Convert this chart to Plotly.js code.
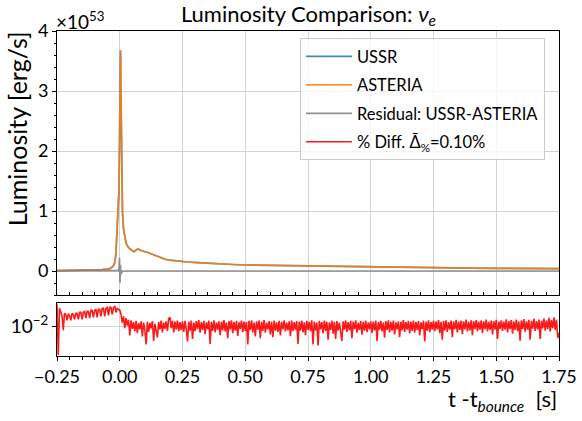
<!DOCTYPE html>
<html>
<head>
<meta charset="utf-8">
<script src="https://cdn.plot.ly/plotly-3.0.1.min.js"></script>
<style>html,body{margin:0;padding:0;background:#fff;}#chart{width:582px;height:421px;}</style>
</head>
<body>
<div id="chart"></div>
<script>
// Time (s) relative to bounce for luminosity curves
const tLum = [-0.25,-0.2,-0.15,-0.1,-0.07,-0.05,-0.04,-0.03,-0.025,-0.02,-0.017,-0.014,-0.011,-0.008,-0.005,-0.003,-0.001,0.001,0.003,0.005,0.008,0.011,0.015,0.02,0.025,0.03,0.04,0.05,0.057,0.065,0.072,0.08,0.09,0.1,0.115,0.13,0.14,0.16,0.18,0.2,0.23,0.27,0.31,0.36,0.4,0.45,0.5,0.58,0.65,0.71,0.8,0.9,1.0,1.1,1.25,1.4,1.5,1.6,1.75];
// Luminosity in units of 1e53 erg/s
const lumAsteria = [0.005,0.007,0.01,0.015,0.022,0.03,0.04,0.065,0.09,0.14,0.22,0.4,0.75,1.0,1.2,1.3,1.8,3.0,3.68,2.8,1.6,0.97,0.7,0.55,0.47,0.42,0.37,0.34,0.32,0.345,0.37,0.35,0.33,0.32,0.305,0.28,0.255,0.22,0.195,0.18,0.165,0.15,0.14,0.125,0.115,0.108,0.1,0.095,0.088,0.083,0.075,0.068,0.062,0.058,0.052,0.048,0.045,0.043,0.04];
const lumUssr = [0.005,0.007,0.01,0.015,0.022,0.03,0.04,0.065,0.09,0.14,0.22,0.4,0.75,1.0,1.21,1.35,2.02,2.8,3.68,2.75,1.6,0.97,0.7,0.55,0.47,0.42,0.37,0.34,0.32,0.345,0.37,0.35,0.33,0.32,0.305,0.28,0.255,0.22,0.195,0.18,0.165,0.15,0.14,0.125,0.115,0.108,0.1,0.095,0.088,0.083,0.075,0.068,0.062,0.058,0.052,0.048,0.045,0.043,0.04];
const residual = [0,0,0,0,0,0,0,0,0,0,0,0,0,0,0.01,0.05,0.22,-0.2,0.1,-0.05,0,0,0,0,0,0,0,0,0,0,0,0,0,0,0,0,0,0,0,0,0,0,0,0,0,0,0,0,0,0,0,0,0,0,0,0,0,0,0];
// Fractional difference, sampled every 0.005 s from -0.25 s
const pctT0 = -0.25, pctDt = 0.005;
const pctDiff = [
.0242,.0033,.0206,.0176,.0156,.0087,.0170,.0163,.0129,.0163,.0156,.0129,.0170,.0163,.0134,.0170,.0170,.0134,.0176,.0176,.0134,.0176,.0183,.0140,.0183,.0183,.0140,.0191,.0191,.0145,.0191,.0199,.0145,.0199,.0199,.0151,.0206,.0206,.0151,.0206,.0214,.0156,.0214,.0214,.0163,.0214,.0223,.0176,.0206,.0199,.0191,
.0163,.0118,.0150,.0095,.0140,.0105,.0132,.0071,.0128,.0092,
.0120,.0084,.0126,.0078,.0115,.0090,.0124,.0068,.0118,.0088,.0050,.0121,.0082,.0116,.0094,.0125,.0057,.0112,.0086,.0066,.0120,.0090,.0127,.0080,.0118,.0092,.0124,.0085,.0138,.0145,.0095,.0126,.0080,.0122,.0090,.0128,.0084,.0120,.0088,.0124,
.0082,.0126,.0090,.0056,.0122,.0086,.0128,.0062,.0118,.0084,.0125,.0092,.0130,.0079,.0120,.0088,.0126,.0075,.0119,.0091,.0127,.0051,.0121,.0085,.0129,.0080,.0117,.0089,.0124,.0072,.0122,.0087,.0130,.0083,.0118,.0064,.0125,.0090,.0128,.0078,.0121,.0086,.0126,.0070,.0119,.0092,.0127,.0081,.0123,.0085,.0120,.0050,.0126,.0088,.0129,.0080,.0118,.0068,.0124,.0089,.0127,.0064,.0121,.0085,.0130,.0079,.0117,.0090,.0125,.0074,.0122,.0066,.0128,.0086,.0119,.0082,.0126,.0071,.0121,.0090,.0129,.0083,.0118,.0087,.0124,.0069,.0127,.0084,.0120,.0089,.0125,.0051,.0122,.0086,.0128,.0080,.0119,.0072,.0126,.0088,
.0121,.0084,.0129,.0050,.0123,.0087,.0118,.0048,.0126,.0090,.0120,.0078,.0128,.0085,.0122,.0060,.0119,.0088,.0127,.0076,.0121,.0062,.0125,.0086,.0118,.0080,.0057,.0124,.0089,.0128,.0082,.0120,.0087,.0126,.0064,.0122,.0091,.0129,.0079,.0117,.0088,.0125,.0073,.0121,.0086,.0127,.0081,.0119,.0090,.0124,.0078,.0122,.0087,.0128,.0057,.0120,.0089,.0126,.0083,.0118,.0065,.0125,.0088,.0129,.0080,.0121,.0086,.0127,.0074,.0119,.0090,.0124,.0066,.0122,.0087,.0130,.0082,.0120,.0089,.0126,.0077,.0123,.0085,.0128,.0079,.0121,.0088,.0125,.0072,.0119,.0091,.0127,.0056,.0122,.0086,.0129,.0081,.0120,.0089,.0126,
.0084,.0123,.0090,.0130,.0078,.0121,.0060,.0125,.0087,.0129,.0082,.0120,.0089,.0127,.0066,.0123,.0091,.0131,.0080,.0122,.0088,.0128,.0075,.0124,.0090,.0132,.0083,.0121,.0087,.0129,.0072,.0125,.0092,.0130,.0084,.0122,.0089,.0128,.0078,.0124,.0091,.0133,.0083,.0121,.0088,.0127,.0074,.0125,.0090,.0131,.0062,.0123,.0092,.0129,.0085,.0122,.0089,.0134,.0080,.0125,.0091,.0130,.0076,.0124,.0088,.0132,.0084,.0123,.0058,.0128,.0092,.0135,.0082,.0124,.0089,.0131,.0060,.0126,.0093,.0136,.0085,.0125,.0090,.0133,.0062,.0127,.0094,.0138,.0086,.0128,.0091,.0142,.0083,.0130,.0095,.0145,.0088,.0132,.0064,.0078
];
const xTicks = [-0.25,0,0.25,0.5,0.75,1.0,1.25,1.5,1.75];
const xTickText = ['−0.25','0.00','0.25','0.50','0.75','1.00','1.25','1.50','1.75'];
const yTicksMain = [0,1,2,3,4];

const FONT = 'Lato, "DejaVu Sans", sans-serif';
const grid = '#d3d3d3';

const traces = [
  {x: tLum, y: lumUssr, name: 'USSR', type: 'scatter', mode: 'lines', line: {color: '#1f77b4', width: 1.7}, opacity: 0.85, xaxis: 'x', yaxis: 'y', legendgroup: 'a'},
  {x: tLum, y: lumAsteria, name: 'ASTERIA', type: 'scatter', mode: 'lines', line: {color: '#ff7f0e', width: 1.7}, opacity: 0.85, xaxis: 'x', yaxis: 'y', legendgroup: 'b'},
  {x: tLum, y: residual, name: 'Residual: USSR-ASTERIA', type: 'scatter', mode: 'lines', line: {color: '#7f7f7f', width: 1.7}, opacity: 0.85, xaxis: 'x', yaxis: 'y', legendgroup: 'c'},
  {x0: pctT0, dx: pctDt, y: pctDiff, name: '% Diff. Δ\u0304<sub>%</sub>=0.10%', type: 'scatter', mode: 'lines', line: {color: '#ff0000', width: 1.6}, opacity: 0.9, xaxis: 'x2', yaxis: 'y2', legendgroup: 'd'}
];

const layout = {
  width: 582, height: 421,
  margin: {l: 57, r: 23, t: 31, b: 65},
  paper_bgcolor: '#fff', plot_bgcolor: '#fff',
  font: {family: FONT, size: 17, color: '#000'},
  showlegend: true,
  title: {text: 'Luminosity Comparison: <i>ν<sub>e</sub></i>', x: 0.53, xanchor: 'center', y: 0.985, yanchor: 'top', font: {size: 22, family: FONT}},
  legend: {x: 0.484, y: 0.978, xanchor: 'left', yanchor: 'top', bgcolor: 'rgba(255,255,255,0.8)', bordercolor: '#cccccc', borderwidth: 1, font: {size: 16.5, family: FONT}, tracegroupgap: 4, itemwidth: 46},
  xaxis: {domain: [0, 1], anchor: 'y', matches: 'x2', range: [-0.25, 1.75], tickvals: xTicks, showticklabels: false, ticks: 'inside', ticklen: 5, tickcolor: '#000', showline: true, linecolor: '#000', linewidth: 1, mirror: true, showgrid: true, gridcolor: grid, gridwidth: 1, zeroline: false,
    minor: {dtick: 0.05, tick0: 0, ticks: 'inside', ticklen: 3, tickcolor: '#000', showgrid: false}},
  yaxis: {domain: [0.1877, 1], anchor: 'x', range: [-0.4, 4], tickvals: yTicksMain, ticktext: ['0','1','2','3','4'], ticks: 'outside', ticklen: 4, tickcolor: '#000', showline: true, linecolor: '#000', linewidth: 1, mirror: true, showgrid: true, gridcolor: grid, gridwidth: 1, zeroline: false, tickfont: {size: 18},
    minor: {dtick: 0.2, tick0: 0, ticks: 'outside', ticklen: 2.5, tickcolor: '#000', showgrid: false}},
  xaxis2: {domain: [0, 1], anchor: 'y2', range: [-0.25, 1.75], tickvals: xTicks, ticktext: xTickText, ticks: 'outside', ticklen: 4, tickcolor: '#000', showline: true, linecolor: '#000', linewidth: 1, mirror: true, showgrid: true, gridcolor: grid, gridwidth: 1, zeroline: false, tickfont: {size: 18},
    minor: {dtick: 0.05, tick0: 0, ticks: 'outside', ticklen: 2.5, tickcolor: '#000', showgrid: false}},
  yaxis2: {domain: [0, 0.162], anchor: 'x2', type: 'log', range: [-2.5, -1.6], tickvals: [0.01], ticktext: ['10<sup>−2</sup>'], ticks: 'outside', ticklen: 4, tickcolor: '#000', showline: true, linecolor: '#000', linewidth: 1, mirror: true, showgrid: true, gridcolor: grid, gridwidth: 1, zeroline: false, tickfont: {size: 19}},
  annotations: [
    {text: '×10<sup>53</sup>', xref: 'paper', yref: 'paper', x: -0.005, y: 1, xanchor: 'left', yanchor: 'bottom', yshift: -4, showarrow: false, font: {size: 19, family: FONT}},
    {text: 'Luminosity [erg/s]', xref: 'paper', yref: 'paper', x: -0.08, y: 0.7, xanchor: 'center', yanchor: 'middle', textangle: -90, showarrow: false, font: {size: 25, family: FONT}},
    {text: 't -t<sub><i>bounce</i></sub>  [s]', xref: 'paper', yref: 'paper', x: 1, y: -0.135, xanchor: 'right', yanchor: 'middle', showarrow: false, font: {size: 22, family: FONT}}
  ]
};

Plotly.newPlot('chart', traces, layout, {displayModeBar: false, staticPlot: true});
</script>
</body>
</html>
